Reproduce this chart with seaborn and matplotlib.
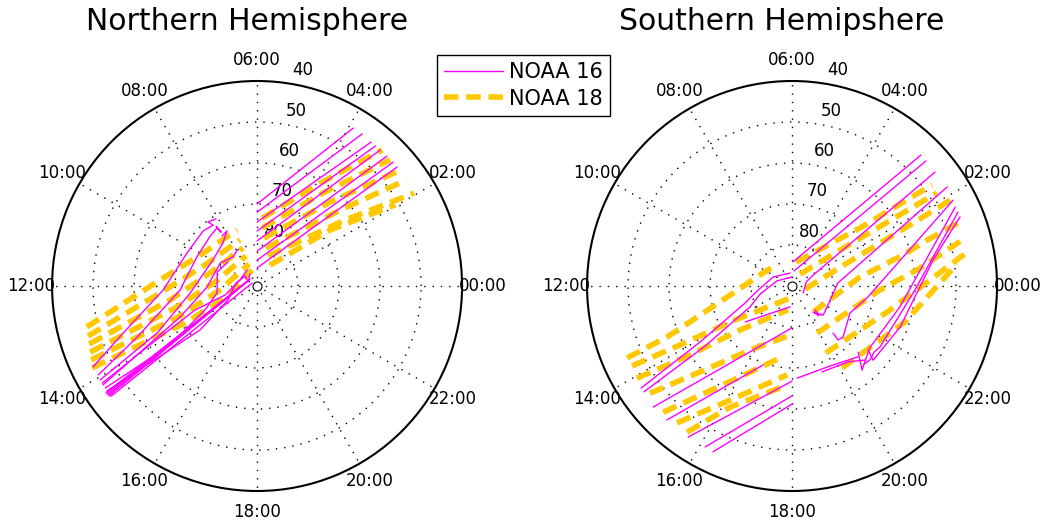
import numpy as np
import pandas as pd
import matplotlib
matplotlib.use("Agg")
import matplotlib.pyplot as plt
from matplotlib.lines import Line2D
import seaborn as sns

# Satellite footprint tracks: magnetic local time (hours) and magnetic latitude (deg).
# One inner list per pass.

# NOAA 16, northern hemisphere
N16_MLT = [
    [6.0, 3.91], [6.0, 3.69], [6.0, 3.44], [6.0, 3.32],
    [6.0, 3.19], [6.0, 3.0], [6.0, 2.82], [6.0, 2.69],
    [13.75, 13.29, 12.16, 10.32, 8.96, 8.39, 8.5, 8.1],
    [13.95, 13.54, 12.2, 10.28, 8.88, 8.31, 8.25, 8.29],
    [14.06, 13.68, 12.4, 9.96, 8.56, 7.91, 8.33],
    [14.18, 13.46, 12.08, 9.88, 8.64, 7.94],
    [14.26, 14.28, 13.65, 12.66, 10.71, 9.36],
    [14.33, 14.51, 13.72, 11.46, 9.35, 10.4, 8.02],
    [14.35, 11.42], [14.38, 10.67], [14.41, 10.06], [14.44, 9.0], [14.47, 9.94],
    [14.14, 13.92, 13.41, 13.05, 10.7, 8.13],
]
N16_LAT = [
    [70.0, 44.9], [72.0, 44.9], [74.4, 45.2], [76.6, 45.3],
    [79.0, 45.3], [81.5, 45.2], [83.7, 45.1], [85.6, 45.2],
    [45.4, 55.4, 67.1, 71.1, 71.2, 71.7, 70.3, 70.8],
    [45.6, 58.2, 71.2, 73.7, 73.3, 72.8, 74.2, 72.3],
    [45.4, 63.1, 73.6, 77.5, 76.6, 74.7, 75.1],
    [45.3, 69.8, 77.8, 79.4, 80.8, 80.0],
    [45.4, 64.4, 76.0, 80.1, 79.7, 80.8],
    [45.3, 72.4, 82.1, 84.8, 86.2, 87.6, 86.6],
    [44.9, 86.8], [44.9, 87.1], [45.0, 87.5], [45.0, 87.6], [45.4, 88.6],
    [45.4, 60.2, 73.8, 81.9, 85.6, 85.4],
]

# NOAA 18, northern hemisphere
N18_MLT = [
    [5.72, 3.90, 3.16], [5.67, 3.61, 2.90], [5.45, 3.27, 2.61],
    [5.11, 2.83, 2.36], [4.66, 2.46, 2.04], [3.88, 2.50, 2.03],
    [12.90, 11.76, 10.10, 7.31], [13.10, 12.17, 10.53, 7.35],
    [13.27, 12.61, 10.97, 7.35], [13.44, 13.00, 11.64, 7.34],
    [13.60, 13.42, 12.41, 7.33], [13.76, 13.81, 13.37, 7.16],
]
N18_LAT = [
    [73.4, 60.6, 44.9], [75.8, 61.7, 45.3], [78.2, 62.9, 45.6],
    [80.5, 62.6, 45.4], [82.2, 63.2, 45.5], [84.0, 67.6, 51.0],
    [47.3, 66.3, 74.2, 75.5], [47.0, 67.5, 76.3, 78.0],
    [46.7, 68.5, 78.1, 80.1], [46.2, 69.3, 79.7, 82.2],
    [45.7, 69.8, 80.9, 84.3], [45.1, 70.3, 81.7, 85.9],
]

# NOAA 16, southern hemisphere
S16_MLT = [
    [14.27, 14.09, 13.33, 12.54, 10.31, 6.58],
    [14.37, 14.31, 13.77, 12.94, 10.77, 6.00],
    [14.74, 18.00], [15.13, 16.66], [15.70, 18.00], [16.11, 18.00],
    [16.30, 18.00], [14.50, 17.64],
    [5.84, 3.03], [5.49, 2.87],
    [21.84, 1.06, 1.77, 2.57],
    [20.92, 20.80, 20.60, 21.13, 22.15, 0.25, 2.17],
    [20.74, 20.70, 21.00, 22.34, 23.45, 1.87],
    [21.00, 20.65, 21.05, 21.46, 23.27, 1.72],
    [20.85, 21.10, 21.41, 21.68, 23.78, 1.60],
    [21.33, 21.17, 22.61, 0.70, 1.49],
    [18.21, 19.69, 20.86], [19.28, 20.43, 21.00],
]
S16_LAT = [
    [-45.6, -63.7, -77.8, -81.4, -84.9, -86.8],
    [-45.6, -64.2, -78.5, -82.0, -86.1, -87.8],
    [-45.1, -79.8], [-45.3, -69.5], [-45.3, -66.8], [-45.4, -63.2],
    [-45.2, -61.2], [-75.6, -84.9],
    [-84.1, -45.2], [-86.3, -45.3],
    [-86.8, -86.4, -84.5, -45.4],
    [-81.9, -80.2, -81.8, -79.6, -80.1, -78.8, -45.1],
    [-74.8, -72.7, -72.4, -74.4, -71.3, -45.5],
    [-67.2, -63.3, -64.8, -65.8, -63.2, -45.8],
    [-64.1, -63.8, -64.3, -63.9, -60.4, -45.7],
    [-65.8, -63.2, -61.8, -55.0, -45.7],
    [-67.5, -68.4, -66.4], [-67.8, -67.0, -64.5],
]

# NOAA 18, southern hemisphere
S18_MLT = [
    [13.57, 13.48, 12.76, 10.74, 8.16], [13.77, 13.85, 14.05, 17.37],
    [14.05, 14.27, 14.68, 17.37], [14.47, 14.87, 15.78, 17.84],
    [14.96, 15.74, 17.47], [15.33, 16.1, 17.79], [15.62, 16.19, 17.81],
    [5.37, 2.7, 2.39], [3.75, 2.35, 2.21, 2.18], [23.13, 1.51, 1.83, 1.9],
    [20.6, 0.5, 1.04, 1.25, 1.39], [19.87, 23.83, 0.53, 1.03],
    [19.79, 23.08, 0.73], [20.09, 22.82, 0.51],
]
S18_LAT = [
    [-46.1, -57.1, -72.8, -81.7, -83.6], [-46.4, -59.1, -73.8, -87.0],
    [-46.0, -60.0, -73.4, -84.1], [-46.6, -59.3, -71.3, -78.0],
    [-46.0, -61.5, -72.5], [-46.4, -58.3, -68.3], [-46.1, -56.8, -65.8],
    [-84.1, -68.2, -47.9], [-86.5, -70.6, -54.8, -48.0], [-86.7, -75.5, -56.7, -46.1],
    [-81.8, -73.3, -61.9, -55.2, -46.2], [-77.0, -68.5, -58.5, -46.2],
    [-71.7, -65.4, -46.5], [-66.6, -61.1, -49.4],
]

MLT_TICKS = list(range(0, 24, 2))
MLT_LABELS = [f"{h:02d}:00" for h in MLT_TICKS]
LAT_RINGS = [80, 70, 60, 50]
LAT_LABELS = ["80", "70", "60", "50", "40"]
LAT_MIN = 40
SERIES = ["NOAA 16", "NOAA 18"]
TITLES = ["Northern Hemisphere", "Southern Hemipshere"]

MAGENTA = "#FF00FF"
GOLD = "#FFC800"
DASH = (0, (2.6, 1.4))

sns.set_style("white")
plt.rcParams["font.family"] = ["DejaVu Sans"]
plt.rcParams["text.color"] = "black"


def tracks_frame(mlts, lats):
    rows = []
    for i, (m, l) in enumerate(zip(mlts, lats)):
        for a, b in zip(m, l):
            rows.append({"theta": np.deg2rad(a * 15.0), "colat": 90.0 - abs(b), "track": i})
    return pd.DataFrame(rows)


def draw_tracks(ax, mlts, lats, color, lw, ls, z):
    sns.lineplot(data=tracks_frame(mlts, lats), x="theta", y="colat", units="track",
                 estimator=None, sort=False, color=color, linewidth=lw, linestyle=ls,
                 ax=ax, legend=False, zorder=z)


def style_panel(ax):
    rmax = 90 - LAT_MIN
    ax.set_theta_zero_location("E")
    ax.set_theta_direction(1)
    ax.set_xticks(np.deg2rad(np.array(MLT_TICKS) * 15.0))
    ax.set_xticklabels([])
    ax.set_yticks([90 - v for v in LAT_RINGS])
    ax.set_yticklabels([])
    ax.set_ylim(0, rmax)
    ax.set_xlabel("")
    ax.set_ylabel("")
    ax.grid(True, color="k", linestyle=(0, (1, 5)), linewidth=1.0)
    ax.spines["polar"].set_linewidth(1.5)
    ax.spines["polar"].set_color("k")
    ax.tick_params(length=0)
    for h, lab in zip(MLT_TICKS, MLT_LABELS):
        ax.text(np.deg2rad(h * 15.0), rmax * 1.1, lab, ha="center", va="center", fontsize=12)
    for lab in LAT_LABELS:
        ax.annotate(lab, xy=(np.deg2rad(80), 90 - float(lab)), xytext=(0, 3.5),
                    textcoords="offset points", ha="left", va="bottom", fontsize=12,
                    annotation_clip=False, zorder=1)
    ax.plot(0, 0, "o", ms=6.5, mfc="white", mec="k", mew=0.8, zorder=5)


fig = plt.figure(figsize=(10.41, 5.27), dpi=100)
axN = fig.add_axes([0.050, 0.0683, 0.3939, 0.778], projection="polar")
axS = fig.add_axes([0.5639, 0.0683, 0.3939, 0.778], projection="polar")

panels = [
    (axN, N16_MLT, N16_LAT, N18_MLT, N18_LAT),
    (axS, S16_MLT, S16_LAT, S18_MLT, S18_LAT),
]
for ax, m16, l16, m18, l18 in panels:
    draw_tracks(ax, m18, l18, GOLD, 4.0, DASH, 3)
    draw_tracks(ax, m16, l16, MAGENTA, 1.0, "-", 4)
    style_panel(ax)

fig.text(0.2373, 0.943, TITLES[0], ha="center", va="baseline", fontsize=21.5)
fig.text(0.7512, 0.943, TITLES[1], ha="center", va="baseline", fontsize=21.5)

handles = [Line2D([], [], color=MAGENTA, lw=1.0),
           Line2D([], [], color=GOLD, lw=4.0, linestyle=DASH)]
leg = fig.legend(handles, SERIES, loc="upper left", bbox_to_anchor=(0.4198, 0.8956),
                 frameon=True, fancybox=False, edgecolor="k", framealpha=1, fontsize=15,
                 handlelength=2.8, handletextpad=0.3, borderpad=0.35, labelspacing=0.3,
                 borderaxespad=0)
leg.get_frame().set_linewidth(1.0)

fig.savefig("out.png", dpi=100)
